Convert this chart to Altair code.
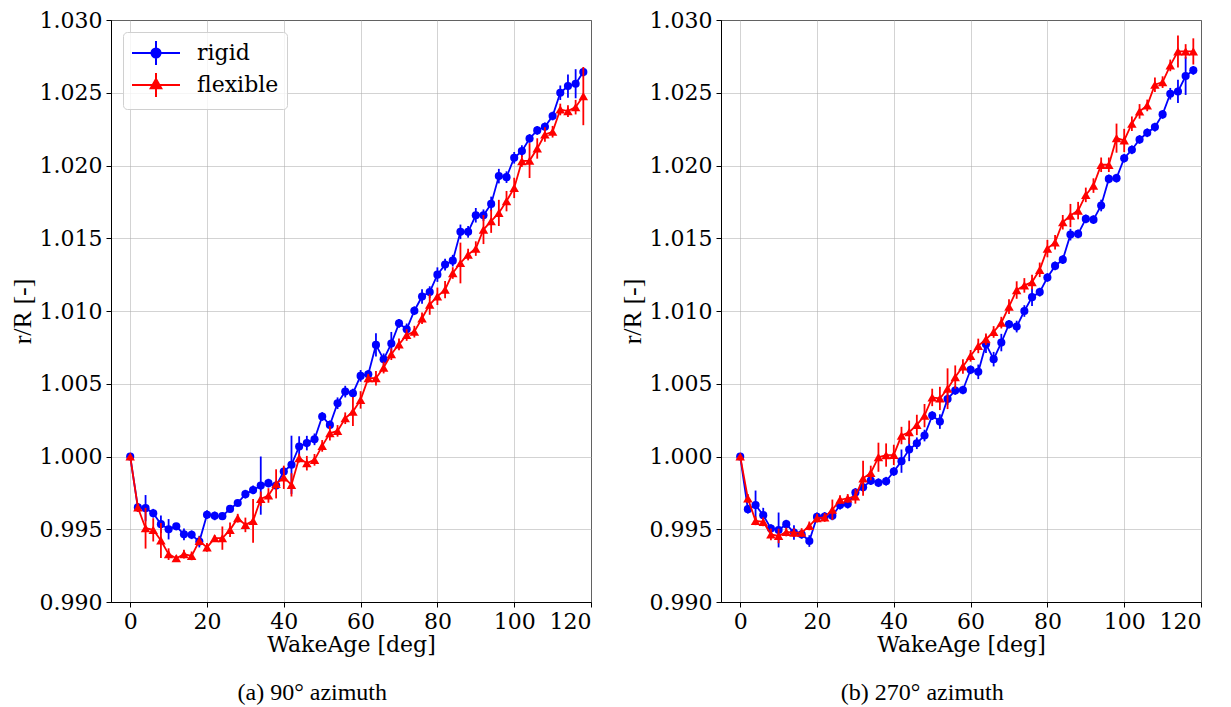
import altair as alt
import pandas as pd

wake = list(range(0, 120, 2))

p1_rigid = [1.0000, 0.9965, 0.99645, 0.9961, 0.99535, 0.9950, 0.9952, 0.99465, 0.99462, 0.99415,
            0.9960, 0.99592, 0.9959, 0.9964, 0.9968, 0.99741, 0.9977, 0.9980, 0.99817, 0.9980,
            0.99897, 0.99943, 1.00069, 1.00092, 1.00118, 1.00275, 1.00217, 1.00366, 1.00446, 1.00435,
            1.00554, 1.00565, 1.00767, 1.00668, 1.00776, 1.00915, 1.00874, 1.01002, 1.0110, 1.0113,
            1.0125, 1.01319, 1.01346, 1.01544, 1.01544, 1.01658, 1.01658, 1.01736, 1.01927, 1.0192,
            1.02053, 1.02099, 1.02186, 1.02241, 1.02266, 1.0234, 1.0250, 1.02546, 1.02562, 1.02642]
p1_flex = [1.0000, 0.9965, 0.99507, 0.99496, 0.99423, 0.99329, 0.99301, 0.99329, 0.99317, 0.9942,
           0.99375, 0.99439, 0.99439, 0.99496, 0.99576, 0.9953, 0.99558, 0.99709, 0.99732, 0.99812,
           0.99857, 0.99805, 0.99989, 0.99954, 0.99977, 1.00073, 1.0016, 1.00176, 1.00263, 1.00309,
           1.00389, 1.00538, 1.00538, 1.00611, 1.00703, 1.00771, 1.00835, 1.00858, 1.0095, 1.01044,
           1.01101, 1.01147, 1.01261, 1.0133, 1.01388, 1.01429, 1.0156, 1.01617, 1.01674, 1.01755,
           1.01846, 1.0203, 1.02034, 1.02117, 1.02213, 1.02232, 1.02385, 1.02374, 1.02401, 1.02477]
p2_rigid = [1.0000, 0.99638, 0.99666, 0.99597, 0.99505, 0.99495, 0.99535, 0.99477, 0.99465, 0.99419,
            0.99585, 0.99588, 0.99592, 0.99666, 0.99673, 0.99753, 0.99788, 0.99834, 0.9982, 0.9983,
            0.99897, 0.99968, 1.00048, 1.00091, 1.00144, 1.00281, 1.0024, 1.00395, 1.00454, 1.00457,
            1.00596, 1.00582, 1.00772, 1.00669, 1.00783, 1.00909, 1.00893, 1.0100, 1.01095, 1.0113,
            1.0123, 1.0131, 1.01353, 1.01525, 1.0153, 1.01633, 1.01628, 1.01725, 1.01908, 1.01913,
            1.0205, 1.02108, 1.02179, 1.02225, 1.02264, 1.02351, 1.02493, 1.02509, 1.02615, 1.02654]
p2_flex = [1.0000, 0.99712, 0.99558, 0.99551, 0.99465, 0.99454, 0.99481, 0.99477, 0.99477, 0.99523,
           0.99576, 0.99581, 0.99634, 0.99703, 0.99712, 0.99726, 0.9985, 0.99887, 0.99995, 1.0001,
           1.00011, 1.00144, 1.00167, 1.00217, 1.00281, 1.00406, 1.00399, 1.00466, 1.00546, 1.00619,
           1.00692, 1.0076, 1.00806, 1.00856, 1.0092, 1.0103, 1.01144, 1.01176, 1.01199, 1.01283,
           1.01429, 1.01472, 1.0161, 1.01656, 1.0169, 1.01798, 1.01862, 1.02005, 1.02005, 1.02188,
           1.02172, 1.02287, 1.02372, 1.02413, 1.02555, 1.02573, 1.02688, 1.02784, 1.02784, 1.02784]

p1_rigid_err = [0, 0.0003, 0.0009, 0.0003, 0.0006, 0.0007, 0.0002, 0.0004, 0.0003, 0.0004,
                0.0003, 0.0003, 0.0002, 0.0002, 0.0002, 0.0003, 0.0003, 0.0020, 0.0003, 0.0002,
                0.0003, 0.0020, 0.0007, 0.0005, 0.0004, 0.0003, 0.0003, 0.0004, 0.0004, 0.0003,
                0.0004, 0.0003, 0.0008, 0.0004, 0.0008, 0.0003, 0.0004, 0.0003, 0.0005, 0.0004,
                0.0005, 0.0004, 0.0004, 0.0005, 0.0004, 0.0005, 0.0004, 0.0005, 0.0005, 0.0004,
                0.0004, 0.0004, 0.0003, 0.0003, 0.0003, 0.0003, 0.0005, 0.0008, 0.0010, 0.0003]
p1_flex_err = [0, 0.0003, 0.0014, 0.0008, 0.0012, 0.0004, 0.0002, 0.0003, 0.0003, 0.0003,
               0.0003, 0.0002, 0.0008, 0.0005, 0.0003, 0.0005, 0.0015, 0.0005, 0.0005, 0.0010,
               0.0008, 0.0008, 0.0003, 0.0005, 0.0004, 0.0004, 0.0005, 0.0004, 0.0004, 0.0010,
               0.0006, 0.0003, 0.0005, 0.0004, 0.0004, 0.0004, 0.0004, 0.0004, 0.0004, 0.0007,
               0.0006, 0.0006, 0.0004, 0.0014, 0.0004, 0.0005, 0.0010, 0.0008, 0.0009, 0.0007,
               0.0007, 0.0004, 0.0012, 0.0007, 0.0005, 0.0004, 0.0004, 0.0004, 0.0005, 0.0020]
p2_rigid_err = [0, 0.0003, 0.0010, 0.0005, 0.0003, 0.0012, 0.0003, 0.0005, 0.0003, 0.0004,
                0.0003, 0.0003, 0.0003, 0.0003, 0.0003, 0.0003, 0.0003, 0.0003, 0.0003, 0.0003,
                0.0003, 0.0008, 0.0008, 0.0004, 0.0004, 0.0003, 0.0005, 0.0004, 0.0003, 0.0003,
                0.0003, 0.0005, 0.0006, 0.0005, 0.0006, 0.0003, 0.0004, 0.0004, 0.0006, 0.0003,
                0.0003, 0.0003, 0.0003, 0.0004, 0.0003, 0.0003, 0.0003, 0.0004, 0.0003, 0.0003,
                0.0003, 0.0003, 0.0003, 0.0003, 0.0003, 0.0003, 0.0004, 0.0008, 0.0013, 0.0003]
p2_flex_err = [0, 0.0003, 0.0003, 0.0003, 0.0004, 0.0005, 0.0003, 0.0003, 0.0003, 0.0003,
               0.0003, 0.0003, 0.0007, 0.0003, 0.0003, 0.0005, 0.0012, 0.0005, 0.0010, 0.0008,
               0.0007, 0.0006, 0.0008, 0.0007, 0.0008, 0.0006, 0.0008, 0.0014, 0.0008, 0.0005,
               0.0004, 0.0005, 0.0004, 0.0004, 0.0004, 0.0005, 0.0006, 0.0005, 0.0005, 0.0005,
               0.0006, 0.0005, 0.0005, 0.0008, 0.0006, 0.0005, 0.0005, 0.0005, 0.0005, 0.0010,
               0.0008, 0.0005, 0.0005, 0.0004, 0.0005, 0.0004, 0.0004, 0.0011, 0.0005, 0.0009]

series_names = ["rigid", "flexible"]
series_colors = ["#0000ff", "#ff0000"]
series_shapes = ["circle", "triangle-up"]
series_sizes = [66, 90]
x_ticks = [0, 20, 40, 60, 80, 100, 120]
y_ticks = [0.990, 0.995, 1.000, 1.005, 1.010, 1.015, 1.020, 1.025, 1.030]
captions = ["(a) 90° azimuth", "(b) 270° azimuth"]

# legend glyphs: errorbar line + vertical bar + marker (drawn beyond the nominal unit box)
PATH_R = "M-2,0L2,0M0,-1L0,1M0.38,0A0.38,0.38 0 1,1 -0.38,0A0.38,0.38 0 1,1 0.38,0Z"
PATH_F = "M-2,0L2,0M0,-1L0,1M0,-0.5L0.44,0.28L-0.44,0.28Z"


def panel(rv, fv, re, fe, caption, show_legend):
    rows = []
    for s, vals, errs in [("rigid", rv, re), ("flexible", fv, fe)]:
        for w, v, e in zip(wake, vals, errs):
            rows.append({"series": s, "wake": w, "value": v, "lo": v - e, "hi": v + e})
    df = pd.DataFrame(rows)
    xs = alt.Scale(domain=[-5, 120], nice=False, zero=False)
    ys = alt.Scale(domain=[0.990, 1.030], nice=False, zero=False)
    cs = alt.Scale(domain=series_names, range=series_colors)
    x = alt.X("wake:Q", scale=xs, axis=alt.Axis(values=x_ticks, title="WakeAge [deg]",
              titleFont="DejaVu Serif", titleFontSize=22, titlePadding=2))
    y = alt.Y("value:Q", scale=ys, axis=alt.Axis(values=y_ticks, format=".3f", title="r/R [-]",
              titleFont="Liberation Serif", titleFontSize=26, titlePadding=4))
    layers = []
    for s, col, shape, size in zip(series_names, series_colors, series_shapes, series_sizes):
        base = alt.Chart(df).transform_filter(alt.datum.series == s)
        err = base.mark_rule(strokeWidth=1.8, clip=True, color=col).encode(x=x, y="lo:Q", y2="hi:Q")
        line = base.mark_line(strokeWidth=1.8, clip=True, color=col).encode(x=x, y=y)
        pts = base.mark_point(filled=True, shape=shape, size=size, opacity=1, clip=True,
                              color=col).encode(x=x, y=y)
        layers += [err, line, pts]
    if show_legend:
        leg = alt.Legend(orient="top-left", title=None, offset=12)
        legend_layer = alt.Chart(df).mark_point(filled=True, strokeWidth=2, clip=True).encode(
            x=x, y=y,
            opacity=alt.value(0),
            fill=alt.Fill("series:N", scale=cs, legend=leg),
            stroke=alt.Stroke("series:N", scale=cs, legend=leg),
            shape=alt.Shape("series:N", scale=alt.Scale(domain=series_names, range=[PATH_R, PATH_F]),
                            legend=leg),
        )
        layers.append(legend_layer)
    return alt.layer(*layers).properties(
        width=480, height=582,
        title=alt.TitleParams(caption, orient="bottom", anchor="middle", frame="bounds",
                              font="Liberation Serif", fontSize=24, fontWeight="normal",
                              color="black", offset=26, dx=12),
    )


c1 = panel(p1_rigid, p1_flex, p1_rigid_err, p1_flex_err, captions[0], True)
c2 = panel(p2_rigid, p2_flex, p2_rigid_err, p2_flex_err, captions[1], False)

chart = alt.hconcat(c1, c2, spacing=26).resolve_scale(
    fill="independent", stroke="independent", shape="independent"
).properties(
    padding={"left": 0, "top": 0, "right": 5, "bottom": 0}
).configure_view(stroke="black", strokeWidth=1).configure_axis(
    grid=True, gridColor="#b0b0b0", gridOpacity=0.7, gridWidth=0.8,
    domainColor="black", tickColor="black", tickSize=5, labelPadding=4,
    labelFont="DejaVu Serif", labelFontSize=22, labelColor="black",
    titleColor="black", titleFontWeight="normal",
).configure_legend(
    padding=8, rowPadding=0, labelFont="DejaVu Serif", labelFontSize=22, labelColor="black",
    labelOffset=28, symbolOffset=12, fillColor="rgba(255,255,255,0.8)", strokeColor="#d0d0d0",
    cornerRadius=4, symbolSize=576, symbolStrokeWidth=2, symbolOpacity=1,
)

chart.save("out.html", embed_options={"renderer": "svg", "actions": False})
